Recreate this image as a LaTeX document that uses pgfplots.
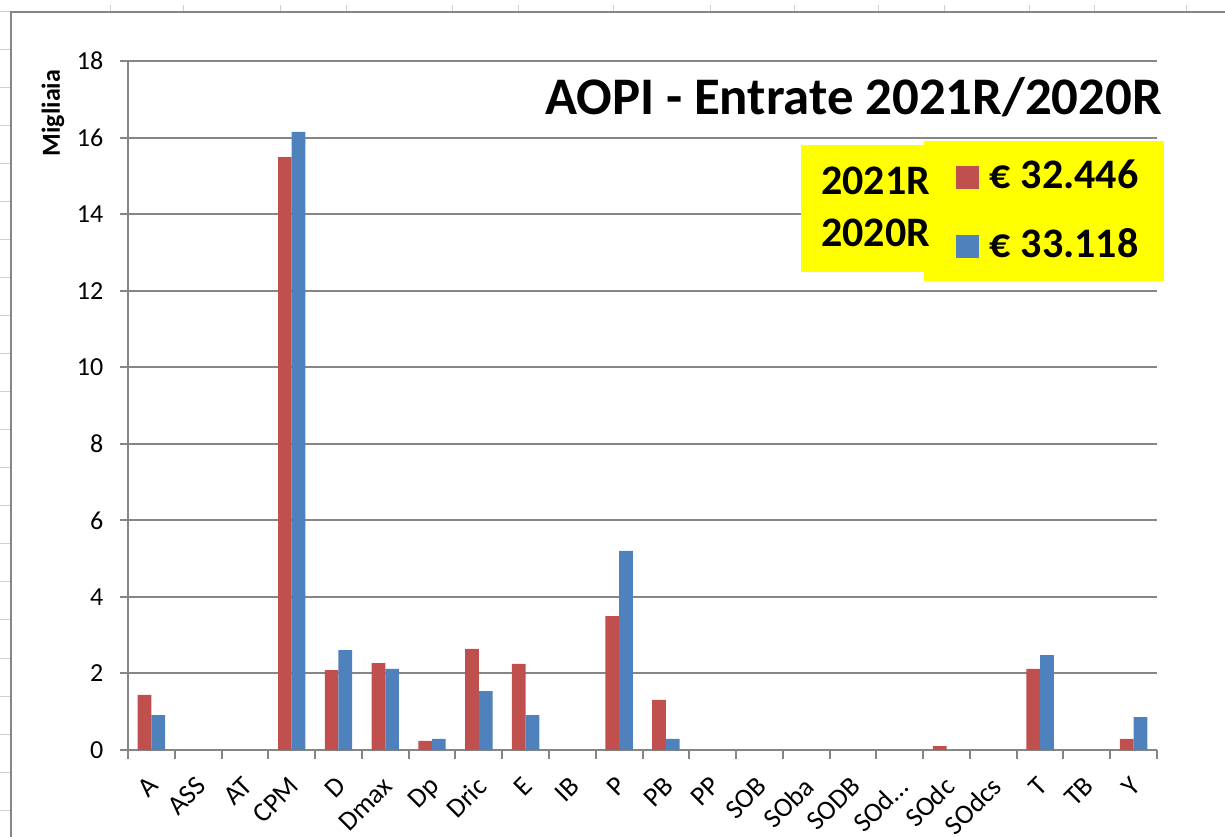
\documentclass[border=0pt]{standalone}
\usepackage{fontspec}
\setmainfont{Carlito}
\usepackage{pgfplots}
\pgfplotsset{compat=1.18}
\definecolor{c21}{HTML}{C0504D}
\definecolor{c20}{HTML}{4F81BD}
\definecolor{axgray}{HTML}{868686}
\definecolor{sheet}{HTML}{D0D0D0}
\definecolor{yel}{RGB}{255,255,0}
\pgfplotsset{sqlegend/.style={legend image code/.code={\path (0pt,0pt); \fill[##1] (4.5pt,0pt) rectangle (21.75pt,17.25pt);}}}
\begin{document}
\begin{tikzpicture}
\useasboundingbox (0,0) rectangle (918.75pt,-627.75pt);
\clip (0,0) rectangle (918.75pt,-627.75pt);
\begin{scope}[x=0.75pt,y=-0.75pt]
  \foreach \yy in {50,88,...,810} \draw[sheet,line width=0.75pt] (0,\yy) -- (10,\yy);
  \draw[sheet,line width=0.75pt] (0,12) -- (10,12);
  \foreach \xx in {110,183,280,346,452,518,613,710,794,878,944,1029,1094,1186} \draw[sheet,line width=0.75pt] (\xx,5) -- (\xx,11);
  \draw[axgray,line width=1.5pt] (11,900) -- (11,12) -- (1300,12);
\end{scope}
\begin{axis}[
  at={(96pt,-562.5pt)}, anchor=south west,
  scale only axis, width=771.75pt, height=516.75pt,
  xmin=-0.5, xmax=21.5, ymin=0, ymax=18,
  ybar=0pt, bar width=0.293,
  axis x line*=bottom, axis y line*=left,
  axis line style={axgray,line width=1.5pt},
  ymajorgrids, grid style={axgray,line width=1.5pt},
  ytick={0,2,...,18},
  xtick={0,...,21},
  xticklabels={A,ASS,AT,CPM,D,Dmax,Dp,Dric,E,IB,P,PB,PP,SOB,SOba,SODB,SOd…,SOdc,SOdcs,T,TB,Y},
  minor xtick={-0.5,0.5,...,21.5},
  tick align=outside, major tick length=6pt, minor tick length=6.75pt,
  tick style={axgray,line width=1.5pt},
  every major x tick/.append style={draw=none},
  /pgf/number format/assume math mode=true,
  yticklabel style={font=\fontsize{19.5}{23}\selectfont, xshift=-9pt},
  xticklabel style={font=\fontsize{20.5}{24}\selectfont, xshift=-2.8pt, yshift=-8pt, rotate=45, anchor=north east},
  legend style={at={(0.7736,0.8839)}, anchor=north west, fill=yel, draw=none,
    inner xsep=19.5pt, inner ysep=11.5pt,
    font=\fontsize{31.5}{36}\selectfont\bfseries,
    row sep=21.75pt, column sep=8pt,
    nodes={inner sep=0pt, text height=24pt, text depth=6pt, anchor=base west}},
  legend cell align=left,
]
\addplot[fill=c21, draw=none, sqlegend] coordinates {
(0,1.44) (3,15.49) (4,2.09) (5,2.27) (6,0.24) (7,2.64) (8,2.25) (10,3.50)
(11,1.31) (17,0.10) (19,2.12) (21,0.29)};
\addplot[fill=c20, draw=none, sqlegend] coordinates {
(0,0.91) (3,16.15) (4,2.61) (5,2.12) (6,0.29) (7,1.54) (8,0.91) (10,5.20)
(11,0.29) (19,2.48) (21,0.86)};
\legend{€ 32.446, € 33.118}
\end{axis}
\begin{scope}[x=0.75pt,y=-0.75pt]
  \fill[yel] (801,145) rectangle (924,272);
  \node[anchor=base west, inner sep=0pt, font=\fontsize{31.5}{36}\selectfont\bfseries] at (821,195) {2021R};
  \node[anchor=base west, inner sep=0pt, font=\fontsize{31.5}{36}\selectfont\bfseries] at (821,247) {2020R};
  \node[anchor=base east, inner sep=0pt, font=\fontsize{39.6}{46}\selectfont\bfseries] at (1162,115) {AOPI - Entrate 2021R/2020R};
  \node[rotate=90, inner sep=0pt, font=\fontsize{19.5}{23}\selectfont\bfseries] at (53,113) {Migliaia};
\end{scope}
\end{tikzpicture}
\end{document}
